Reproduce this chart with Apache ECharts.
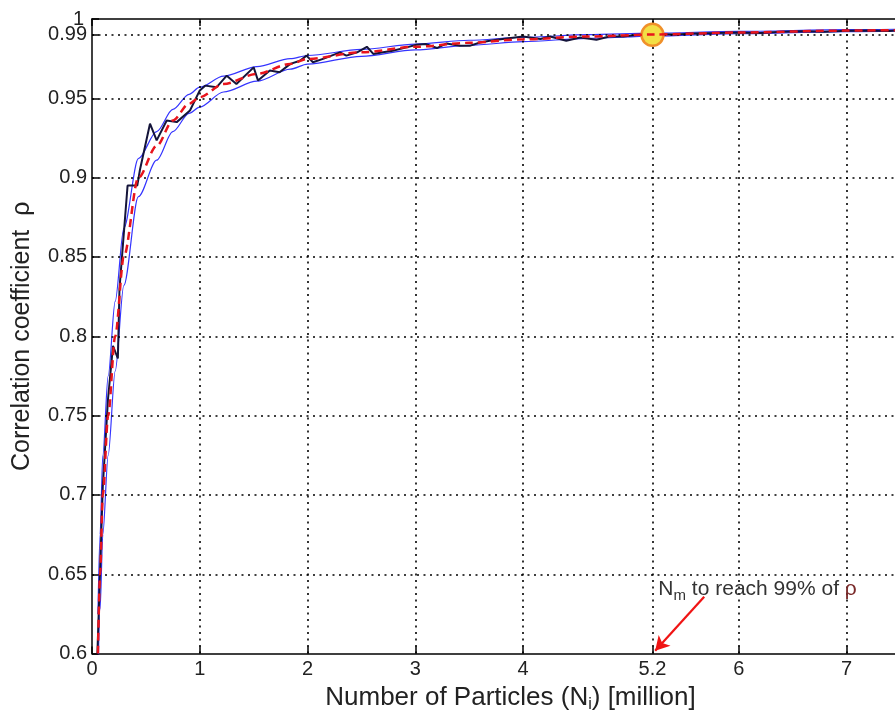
<!DOCTYPE html>
<html>
<head>
<meta charset="utf-8">
<script src="https://cdn.jsdelivr.net/npm/echarts@6/dist/echarts.min.js"></script>
<style>
html,body{margin:0;padding:0;background:#fff;}
#chart{width:895px;height:718px;}
</style>
</head>
<body>
<div id="chart"></div>
<script>
// ---- data ----
const xTicks = [0, 1, 2, 3, 4, 5.2, 6, 7];
const yTicks = [0.6, 0.65, 0.7, 0.75, 0.8, 0.85, 0.9, 0.95, 0.99, 1];
const yLabels = [0.6, 0.65, 0.7, 0.75, 0.8, 0.85, 0.9, 0.95, 0.99];
const yTopLabel = [1];
const gridX = [1, 2, 3, 4, 5.2, 6, 7];
const gridY = [0.65, 0.7, 0.75, 0.8, 0.85, 0.9, 0.95, 0.99];

const fitX = [0.055,0.075,0.1,0.15,0.215,0.295,0.43,0.6,0.75,0.9,1.0,1.22,1.53,1.84,2.0,2.5,3.0,3.5,4.0,4.6,5.2,6,7,8];
const fitY = [0.6,0.65,0.7,0.75,0.8,0.85,0.9,0.92,0.936,0.9466,0.9507,0.959,0.9654,0.9717,0.9748,0.979,0.9825,0.985,0.9872,0.989,0.9902,0.9915,0.9927,0.9936];
const upY  = [0.625,0.675,0.725,0.775,0.822,0.868,0.912,0.929,0.943,0.9525,0.957,0.964,0.970,0.975,0.977,0.9808,0.9842,0.9866,0.9885,0.9901,0.9911,0.9922,0.9933,0.9941];
const loY  = [0.585,0.628,0.675,0.725,0.778,0.832,0.888,0.911,0.929,0.9405,0.9445,0.954,0.9608,0.9684,0.9716,0.9765,0.9805,0.9834,0.9857,0.9878,0.9892,0.9907,0.9920,0.9930];

const simX = [0.05,0.1,0.148,0.195,0.24,0.255,0.33,0.42,0.445,0.538,0.60,0.693,0.786,0.909,1.0,1.05,1.157,1.25,1.34,1.50,1.54,1.65,1.74,1.84,1.93,1.99,2.05,2.15,2.30,2.36,2.46,2.55,2.61,2.70,2.79,2.92,3.01,3.10,3.20,3.29,3.41,3.51,3.60,3.69,3.81,4.0,4.16,4.25,4.40,4.53,4.68,4.80,4.93,5.05,5.19,5.4,5.6,5.8,6.0,6.2,6.4,6.6,6.8,7.0,7.2,7.4,7.6,7.8,8.0];
const simY = [0.6,0.705,0.76,0.794,0.786,0.83,0.895,0.895,0.905,0.934,0.9235,0.936,0.935,0.9423,0.955,0.958,0.957,0.9643,0.959,0.9695,0.9612,0.9675,0.9664,0.9717,0.9737,0.9769,0.9727,0.975,0.979,0.9769,0.979,0.9825,0.978,0.979,0.98,0.9821,0.9838,0.9842,0.9817,0.9846,0.9832,0.9832,0.9852,0.9863,0.9874,0.989,0.9874,0.989,0.9863,0.9884,0.9869,0.989,0.989,0.9899,0.9905,0.9903,0.9908,0.9912,0.9915,0.9912,0.992,0.9922,0.9919,0.9926,0.9928,0.9925,0.9932,0.9934,0.9936];

const xMax = 7.45;
const markerPt = [5.2, 0.99];
const arrowFrom = [5.68, 0.6358];
const arrowTo = [5.225, 0.6018];
const notePt = [5.25, 0.6408];

const zip = (xs, ys) => xs.map((x, i) => [x, ys[i]]);

const FONT = 'Liberation Sans, Arial, sans-serif';
const chart = echarts.init(document.getElementById('chart'), null, {renderer: 'canvas'});

const dotted = {color: '#000', width: 1.6, type: [2, 4.5]};

const option = {
  animation: false,
  backgroundColor: '#fff',
  grid: {left: 92, top: 19, bottom: 63, right: 0, containLabel: false},
  xAxis: [{
    type: 'value', min: 0, max: xMax, interval: 1, position: 'bottom',
    axisLine: {show: true, onZero: false, lineStyle: {color: '#000', width: 1.5}},
    axisTick: {show: true, inside: true, length: 7, customValues: xTicks, lineStyle: {color: '#000', width: 1.5}},
    axisLabel: {customValues: xTicks, color: '#222', fontSize: 20, fontFamily: FONT, margin: 6},
    splitLine: {show: false},
    name: 'Number of Particles (N{s|i}) [million]',
    nameLocation: 'middle', nameGap: 23,
    nameTextStyle: {color: '#222', fontSize: 26, fontFamily: FONT, padding: [0, 0, 0, 34],
      rich: {s: {fontSize: 16, fontFamily: FONT, color: '#222', verticalAlign: 'bottom', padding: [15, 0, 0, 0]}}}
  }, {
    type: 'value', min: 0, max: xMax, interval: 1, position: 'top',
    axisLine: {show: true, onZero: false, lineStyle: {color: '#000', width: 1.5}},
    axisTick: {show: true, inside: true, length: 7, customValues: xTicks, lineStyle: {color: '#000', width: 1.5}},
    axisLabel: {show: false},
    splitLine: {show: false}
  }],
  yAxis: [{
    type: 'value', min: 0.6, max: 1, interval: 0.05,
    axisLine: {show: true, onZero: false, lineStyle: {color: '#000', width: 1.5}},
    axisTick: {show: true, inside: true, length: 7, customValues: yTicks, lineStyle: {color: '#000', width: 1.5}},
    axisLabel: {customValues: yLabels, color: '#222', fontSize: 20, fontFamily: FONT, margin: 5},
    splitLine: {show: false},
    name: 'Correlation coefficient  ρ',
    nameLocation: 'middle', nameGap: 57,
    nameTextStyle: {color: '#222', fontSize: 25, fontFamily: FONT}
  }, {
    type: 'value', min: 0.6, max: 1, interval: 0.05, position: 'left', offset: 0,
    axisLine: {show: false},
    axisTick: {show: false},
    axisLabel: {customValues: yTopLabel, color: '#222', fontSize: 20, fontFamily: FONT, margin: 8, padding: [0, 0, 10, 0]},
    splitLine: {show: false}
  }],
  series: [
    {
      name: 'grid', type: 'line', data: [], silent: true,
      markLine: {
        silent: true, symbol: ['none', 'none'], label: {show: false},
        lineStyle: dotted, emphasis: {disabled: true},
        data: gridX.map(v => ({xAxis: v})).concat(gridY.map(v => ({yAxis: v})))
      }
    },
    {
      name: 'upper', type: 'line', data: zip(fitX, upY), showSymbol: false, smooth: 0.3, smoothMonotone: 'x',
      lineStyle: {color: '#3434ff', width: 1.2}, silent: true, z: 3
    },
    {
      name: 'lower', type: 'line', data: zip(fitX, loY), showSymbol: false, smooth: 0.3, smoothMonotone: 'x',
      lineStyle: {color: '#3434ff', width: 1.2}, silent: true, z: 3
    },
    {
      name: 'sim', type: 'line', data: zip(simX, simY), showSymbol: false,
      lineStyle: {color: '#14143a', width: 2}, silent: true, z: 4
    },
    {
      name: 'fit', type: 'line', data: zip(fitX, fitY), showSymbol: false, smooth: 0.3, smoothMonotone: 'x',
      lineStyle: {color: '#e8141c', width: 2.5, type: [8, 5]}, silent: true, z: 5,
      markPoint: {
        silent: true,
        data: [{coord: markerPt, symbol: 'circle', symbolSize: 22,
          itemStyle: {color: '#f2df45', borderColor: '#f0902a', borderWidth: 2.5},
          label: {show: false}}]
      }
    },
    {
      name: 'note', type: 'line', data: [], silent: true, z: 6,
      markLine: {
        silent: true, symbol: ['none', 'arrow'], symbolSize: [12, 14], label: {show: false},
        lineStyle: {color: '#f01414', width: 2.2, type: 'solid'}, emphasis: {disabled: true},
        data: [[{coord: arrowFrom}, {coord: arrowTo}]]
      },
      markPoint: {
        silent: true,
        data: [{coord: notePt, symbol: 'circle', symbolSize: 1, itemStyle: {color: 'rgba(0,0,0,0)'},
          label: {show: true, position: 'right', distance: 0,
            formatter: '{a|N}{s|m}{a| to reach 99% of }{r|ρ}',
            rich: {
              a: {fontSize: 21, fontFamily: FONT, color: '#333'},
              s: {fontSize: 15, fontFamily: FONT, color: '#333', verticalAlign: 'bottom', padding: [13, 0, 0, 0]},
              r: {fontSize: 21, fontFamily: FONT, color: '#7a2a2a'}
            }}}]
      }
    }
  ]
};
chart.setOption(option);
</script>
</body>
</html>
